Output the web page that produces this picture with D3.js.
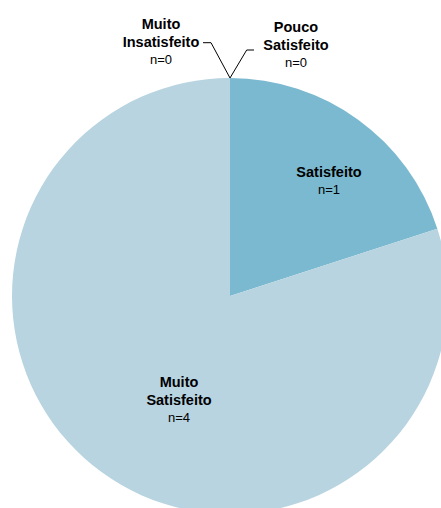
<!DOCTYPE html>
<html>
<head>
<meta charset="utf-8">
<script src="https://cdn.jsdelivr.net/npm/d3@7"></script>
<style>
	body{margin:0;background:#fff;}
	svg{display:block;font-family:"Liberation Sans",Arial,sans-serif;}
</style>
</head>
<body>
<svg width="441" height="508"></svg>
<script>
// data
const categories = ["Pouco Satisfeito","Satisfeito","Muito Satisfeito","Muito Insatisfeito"];
const counts = [0,1,4,0];
const labelLines = [["Pouco","Satisfeito"],["Satisfeito"],["Muito","Satisfeito"],["Muito","Insatisfeito"]];
const colors = ["#7ab9cf","#7ab9cf","#b7d4e0","#b7d4e0"];

const width = 441, height = 508;
const cx = 230, cy = 296, radius = 218;
const lineH = 17.5;

// where each label sits, relative to the centre (baseline of first line)
const labelPos = [
	{x: 66, y: -264},
	{x: 99, y: -119.5},
	{x: -51, y: 91},
	{x: -69, y: -267}
];
// leader lines for the empty slices: [elbow, end]
const leaders = {
	0: [[16.7,-246],[24,-246]],
	3: [[-19,-253.3],[-27,-253.3]]
};

const svg = d3.select("svg");
const g = svg.append("g").attr("transform", `translate(${cx},${cy})`);

const pie = d3.pie().sort(null).value(d => d.v);
const arcs = pie(categories.map((c,i) => ({c, v: counts[i], i})));
const arc = d3.arc().innerRadius(0).outerRadius(radius);

g.selectAll("path.slice")
	.data(arcs.filter(d => d.data.v > 0))
	.join("path")
	.attr("class","slice")
	.attr("d", arc)
	.attr("fill", d => colors[d.data.i]);

// leader lines
arcs.forEach(d => {
	const l = leaders[d.data.i];
	if(!l) return;
	const a = d.startAngle;
	const p0 = [radius*Math.sin(a), -radius*Math.cos(a)];
	g.append("polyline")
		.attr("points", [p0].concat(l).map(p => p.join(",")).join(" "))
		.attr("fill","none")
		.attr("stroke","#000")
		.attr("stroke-width",1);
});

// labels
arcs.forEach(d => {
	const i = d.data.i;
	const p = labelPos[i];
	const t = g.append("text")
		.attr("text-anchor", "middle")
		.attr("fill","#000");
	const lines = labelLines[i];
	lines.forEach((s,k) => {
		t.append("tspan")
			.attr("x", p.x)
			.attr("y", p.y + k*lineH)
			.attr("font-weight","bold")
			.attr("font-size", 14.5)
			.text(s);
	});
	t.append("tspan")
		.attr("x", p.x)
		.attr("y", p.y + lines.length*lineH)
		.attr("font-size", 13)
		.text("n=" + d.data.v);
});
</script>
</body>
</html>
